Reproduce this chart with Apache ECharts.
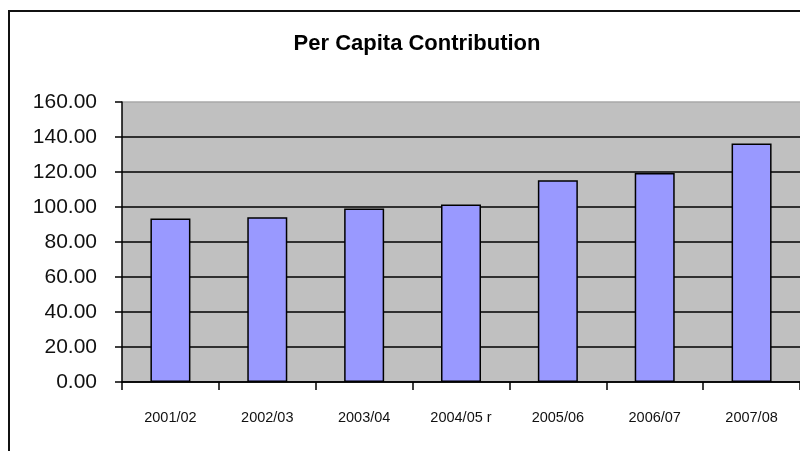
<!DOCTYPE html>
<html><head><meta charset="utf-8">
<script src="https://cdn.jsdelivr.net/npm/echarts@6/dist/echarts.min.js"></script>
<style>html,body{margin:0;padding:0;background:#fff}#c{width:800px;height:451px}</style>
</head><body><div id="c"></div>
<script>
const categories = ['2001/02','2002/03','2003/04','2004/05 r','2005/06','2006/07','2007/08'];
const values = [93.4, 94.2, 99.2, 101.4, 115.3, 119.5, 136.3];
const yTicks = [0, 20, 40, 60, 80, 100, 120, 140, 160];

const chart = echarts.init(document.getElementById('c'), null, {renderer: 'canvas'});
chart.setOption({
  animation: false,
  backgroundColor: '#fff',
  title: {
    text: 'Per Capita Contribution',
    left: 412, textAlign: 'center', top: 28,
    textStyle: {fontFamily: 'Liberation Sans, Arial', fontWeight: 'bold', fontSize: 22, color: '#000'}
  },
  graphic: [{
    type: 'rect', shape: {x: 9, y: 11, width: 830, height: 480},
    style: {fill: 'none', stroke: '#111', lineWidth: 2}, z: 100, silent: true
  }],
  grid: {left: 122, right: -5, top: 102, bottom: 69, backgroundColor: '#c0c0c0', show: true, borderWidth: 0},
  xAxis: {
    type: 'category', data: categories,
    axisLine: {lineStyle: {color: '#000', width: 1.5}},
    axisTick: {show: true, length: 8, lineStyle: {color: '#000', width: 1.5}},
    axisLabel: {fontFamily: 'Liberation Sans, Arial', fontSize: 14.5, color: '#111', margin: 28}
  },
  yAxis: {
    type: 'value', min: yTicks[0], max: yTicks[yTicks.length - 1], interval: 20,
    axisLine: {show: true, lineStyle: {color: '#000', width: 1.5}},
    axisTick: {show: true, length: 7, lineStyle: {color: '#000', width: 1.5}},
    axisLabel: {fontFamily: 'Liberation Sans, Arial', fontSize: 21, color: '#111', margin: 25,
      formatter: v => v.toFixed(2)},
    splitLine: {show: true, lineStyle: {color: ['#000','#000','#000','#000','#000','#000','#000','#000','#a8a8a8'], width: 1.5}}
  },
  series: [{
    type: 'bar', data: values, barWidth: 40,
    itemStyle: {color: '#9999ff', borderColor: '#000', borderWidth: 1.5}
  }]
});
</script></body></html>
